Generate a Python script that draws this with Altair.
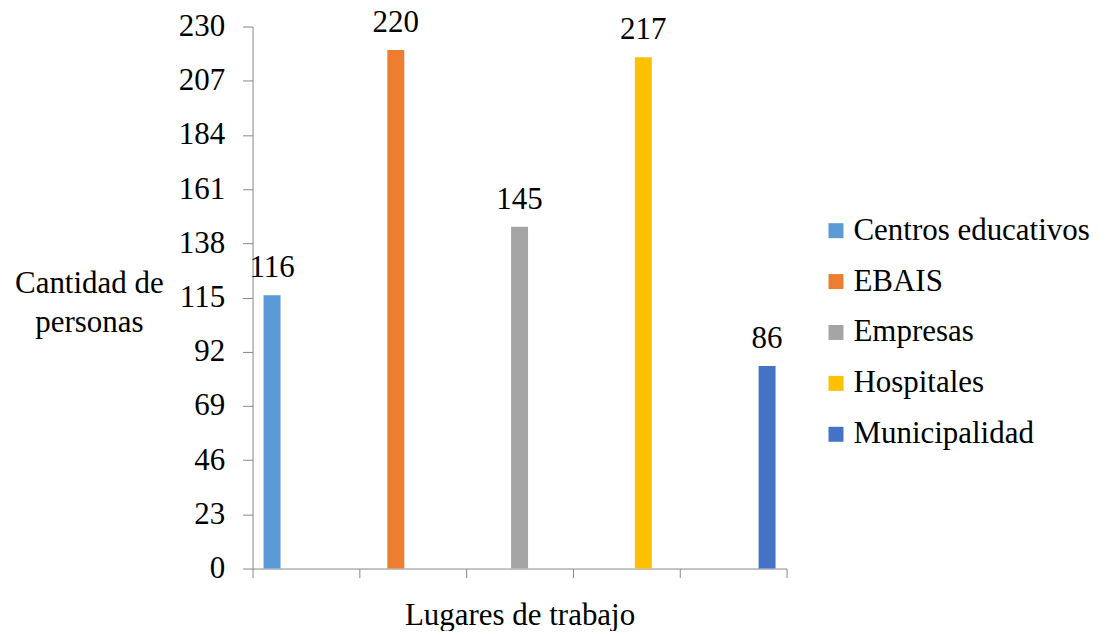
import altair as alt
import pandas as pd

lugares = ["Centros educativos", "EBAIS", "Empresas", "Hospitales", "Municipalidad"]
cantidades = [116, 220, 145, 217, 86]
colores = ["#5B9BD5", "#ED7D31", "#A5A5A5", "#FFC000", "#4472C4"]
y_ticks = [0, 23, 46, 69, 92, 115, 138, 161, 184, 207, 230]

df = pd.DataFrame({"Lugar": lugares, "Cantidad": cantidades})

FONT = "Liberation Serif"
AXIS_GRAY = "#898989"

x_enc = alt.X(
    "Lugar:N",
    sort=lugares,
    scale=alt.Scale(paddingInner=0, paddingOuter=0),
    axis=alt.Axis(
        title="Lugares de trabajo",
        labels=False,
        tickBand="extent",
        tickSize=9,
        tickColor=AXIS_GRAY,
        domainColor=AXIS_GRAY,
        titleFont=FONT,
        titleFontSize=31,
        titleFontWeight="normal",
        titleColor="black",
        titleBaseline="alphabetic",
        titleY=56,
        grid=False,
    ),
)
xoff_enc = alt.XOffset(
    "Lugar:N", sort=lugares, scale=alt.Scale(paddingInner=0, paddingOuter=0.65)
)
y_enc = alt.Y(
    "Cantidad:Q",
    scale=alt.Scale(domain=[0, 230], nice=False),
    axis=alt.Axis(
        values=y_ticks,
        title=["Cantidad de", "personas"],
        titleAngle=0,
        titleAlign="center",
        titleBaseline="alphabetic",
        titleX=-164,
        titleY=266,
        titleLineHeight=40,
        titleFont=FONT,
        titleFontSize=31,
        titleFontWeight="normal",
        titleColor="black",
        labelFont=FONT,
        labelFontSize=31,
        labelColor="black",
        labelPadding=18,
        tickSize=10,
        tickColor=AXIS_GRAY,
        domainColor=AXIS_GRAY,
        grid=False,
    ),
)

bars = alt.Chart(df).mark_bar().encode(
    x=x_enc,
    xOffset=xoff_enc,
    y=y_enc,
    color=alt.Color(
        "Lugar:N",
        sort=lugares,
        scale=alt.Scale(domain=lugares, range=colores),
        legend=alt.Legend(
            title=None,
            orient="none",
            legendX=569,
            legendY=189,
            symbolType="square",
            symbolSize=225,
            symbolStrokeWidth=0,
            labelFont=FONT,
            labelFontSize=31,
            labelColor="black",
            labelOffset=2,
            labelLimit=0,
            rowPadding=19,
        ),
    ),
)

labels = alt.Chart(df).mark_text(
    font=FONT, fontSize=31, color="black", baseline="alphabetic", dy=-18
).encode(
    x=alt.X("Lugar:N", sort=lugares),
    xOffset=alt.XOffset("Lugar:N", sort=lugares),
    y="Cantidad:Q",
    text="Cantidad:Q",
)

chart = (
    alt.layer(bars, labels)
    .properties(
        width=535,
        height=543,
        autosize=alt.AutoSizeParams(type="none"),
        padding={"left": 245, "top": 18, "right": 312, "bottom": 62},
        background="white",
    )
    .configure_view(stroke=None)
)

chart.save("out.html", embed_options={"renderer": "svg", "actions": False})
